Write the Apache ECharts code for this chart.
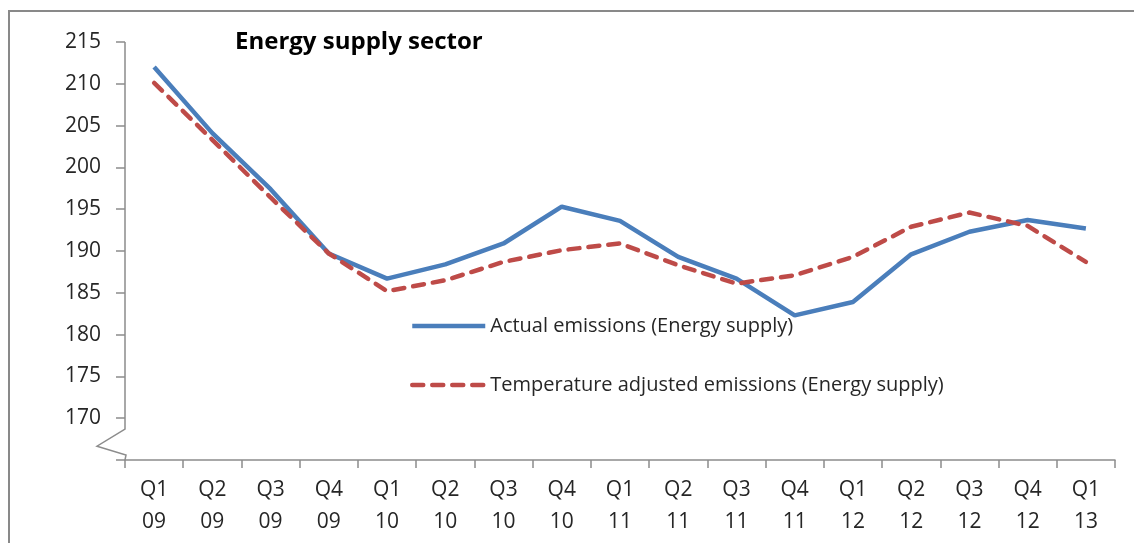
<!DOCTYPE html>
<html>
<head>
<meta charset="utf-8">
<script src="https://cdn.jsdelivr.net/npm/echarts@6/dist/echarts.min.js"></script>
<style>
  html, body { margin: 0; padding: 0; background: #fff; }
  #chart { width: 1134px; height: 543px; }
</style>
</head>
<body>
<div id="chart"></div>
<script>
var quarters = ["Q1\n09", "Q2\n09", "Q3\n09", "Q4\n09", "Q1\n10", "Q2\n10", "Q3\n10", "Q4\n10",
    "Q1\n11", "Q2\n11", "Q3\n11", "Q4\n11", "Q1\n12", "Q2\n12", "Q3\n12", "Q4\n12", "Q1\n13"];
var actual = [212.0, 204.1, 197.4, 189.7, 186.7, 188.4, 190.9, 195.3,
    193.6, 189.3, 186.7, 182.3, 183.9, 189.6, 192.3, 193.7, 192.7];
var adjusted = [210.1, 203.3, 196.4, 189.7, 185.2, 186.5, 188.7, 190.1,
    190.9, 188.3, 186.1, 187.1, 189.3, 192.9, 194.6, 193.0, 188.7];
var yTicks = { min: 165, max: 215, step: 5 };

var gridLeft = 125;
var axisColor = "#8c8c8c";
var textColor = "#262626";
var fontName = "'Open Sans', sans-serif";

var chart = echarts.init(document.getElementById('chart'));

var option = {
    animation: false,
    backgroundColor: '#fff',
    title: {
        text: 'Energy supply sector',
        left: 235,
        top: 30,
        padding: 0,
        textStyle: { fontFamily: fontName, fontSize: 24, fontWeight: 'bold', color: '#000' }
    },
    legend: {
        orient: 'vertical',
        left: 410,
        top: 316,
        padding: 0,
        itemWidth: 73,
        itemHeight: 14,
        itemGap: 39,
        itemStyle: { opacity: 0 },
        lineStyle: { width: 4.5 },
        textStyle: { fontFamily: fontName, fontSize: 20, color: textColor },
        data: ['Actual emissions (Energy supply)', 'Temperature adjusted emissions (Energy supply)']
    },
    grid: { left: gridLeft, right: 19, top: 42, bottom: 83 },
    xAxis: {
        type: 'category',
        data: quarters,
        boundaryGap: true,
        axisLine: { lineStyle: { color: axisColor, width: 1.5 } },
        axisTick: { show: true, length: 8, alignWithLabel: false, lineStyle: { color: axisColor, width: 1.5 } },
        axisLabel: { fontFamily: fontName, fontSize: 21, color: textColor, lineHeight: 32, margin: 14, interval: 0 }
    },
    yAxis: {
        type: 'value',
        min: yTicks.min,
        max: yTicks.max,
        interval: yTicks.step,
        splitLine: { show: false },
        axisLine: { show: false },
        axisTick: { show: true, length: 9, lineStyle: { color: axisColor, width: 1.5 } },
        axisLabel: {
            fontFamily: fontName, fontSize: 21, color: textColor, margin: 24,
            formatter: function (v) { return v === yTicks.min ? '' : v; }
        }
    },
    series: [
        {
            name: 'Actual emissions (Energy supply)',
            type: 'line',
            data: actual,
            symbol: 'none',
            lineStyle: { color: '#4a7ebb', width: 4.5 },
            itemStyle: { color: '#4a7ebb' }
        },
        {
            name: 'Temperature adjusted emissions (Energy supply)',
            type: 'line',
            data: adjusted,
            symbol: 'none',
            lineStyle: { color: '#be4b48', width: 4.5, type: [11, 9], cap: 'round' },
            itemStyle: { color: '#be4b48' }
        }
    ]
};

chart.setOption(option);

// y axis line with a break mark near the bottom
function yPix(v) {
    return chart.convertToPixel({ yAxisIndex: 0 }, v);
}
chart.setOption({
    graphic: [
        {
            type: 'polyline',
            shape: {
                points: [
                    [gridLeft, yPix(yTicks.max)],
                    [gridLeft, yPix(168.7)],
                    [gridLeft - 28, yPix(166.65)],
                    [gridLeft + 1, yPix(165.6)],
                    [gridLeft, yPix(yTicks.min)]
                ]
            },
            style: { stroke: axisColor, lineWidth: 1.5, fill: null }
        },
        {
            type: 'rect',
            shape: { x: 9, y: 11, width: 1300, height: 700 },
            style: { stroke: '#898989', lineWidth: 2, fill: null },
            silent: true
        }
    ]
});
</script>
</body>
</html>
